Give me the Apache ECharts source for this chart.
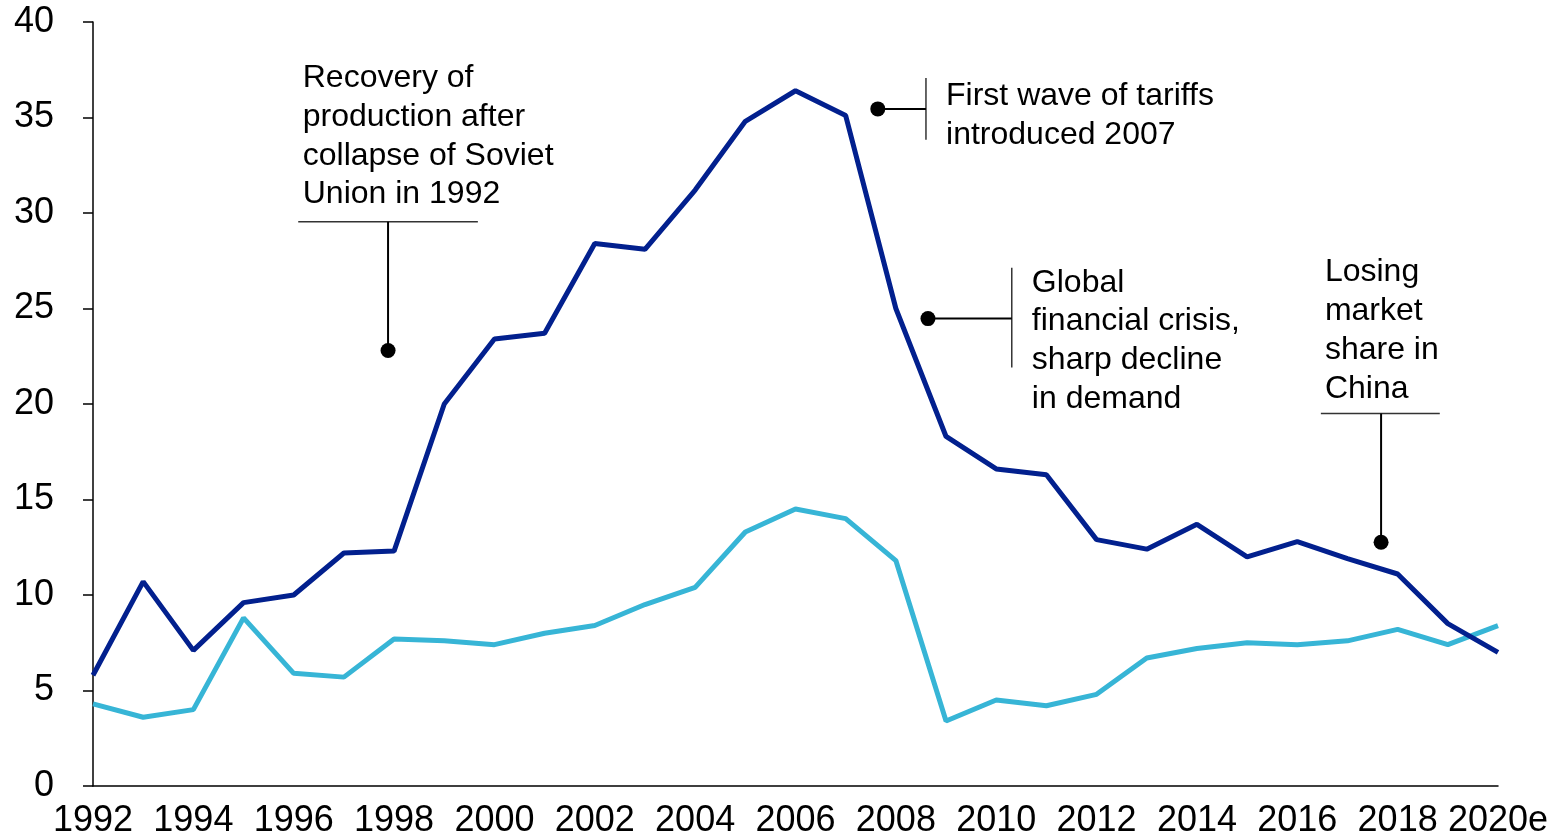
<!DOCTYPE html>
<html><head><meta charset="utf-8">
<script src="https://cdn.jsdelivr.net/npm/echarts@6/dist/echarts.min.js"></script>
<style>html,body{margin:0;padding:0;background:#fff}#c{width:1552px;height:839px}</style>
</head><body><div id="c"></div>
<script>
const years = [1992,1993,1994,1995,1996,1997,1998,1999,2000,2001,2002,2003,2004,2005,2006,2007,2008,2009,2010,2011,2012,2013,2014,2015,2016,2017,2018,2019,2020];
const seriesDark = [5.8,10.7,7.1,9.6,10.0,12.2,12.3,20.0,23.4,23.7,28.4,28.1,31.2,34.8,36.4,35.1,25.0,18.3,16.6,16.3,12.9,12.4,13.7,12.0,12.8,11.9,11.1,8.5,7.0];
const seriesLight = [4.3,3.6,4.0,8.8,5.9,5.7,7.7,7.6,7.4,8.0,8.4,9.5,10.4,13.3,14.5,14.0,11.8,3.4,4.5,4.2,4.8,6.7,7.2,7.5,7.4,7.6,8.2,7.4,8.4];
const lastYearLabel = '2020e';
const yTicks = [0,5,10,15,20,25,30,35,40];

// annotation anchors in data coordinates (year, value)
const annDots = [[1997.88,22.8],[2007.64,35.45],[2008.64,24.47],[2017.67,12.76]];
const annJoints = [[1997.88,29.54],[2008.6,35.45],[2010.31,24.47],[2017.67,19.5]];
const annBars = [[[1996.09,29.54],[1999.67,29.54]],[[2008.6,37.07],[2008.6,33.83]],[[2010.31,27.14],[2010.31,21.91]],[[2016.47,19.5],[2018.84,19.5]]];
const annTextPos = [[1996.18,34.0],[2009.0,35.1],[2010.71,23.3],[2016.55,23.84]];
const annTexts = [
  'Recovery of\nproduction after\ncollapse of Soviet\nUnion in 1992',
  'First wave of tariffs\nintroduced 2007',
  'Global\nfinancial crisis,\nsharp decline\nin demand',
  'Losing\nmarket\nshare in\nChina'
];

const FONT = '"Liberation Sans", Arial, sans-serif';
const chart = echarts.init(document.getElementById('c'));
chart.setOption({
  animation: false,
  backgroundColor: '#fff',
  grid: {left: 93, right: 54, top: 22, bottom: 53, containLabel: false},
  xAxis: {
    type: 'value', min: years[0], max: years[years.length-1], interval: 2,
    axisLine: {show: true, lineStyle: {color: '#000', width: 1.5}},
    axisTick: {show: false},
    splitLine: {show: false},
    axisLabel: {fontSize: 36, color: '#000', fontFamily: FONT, margin: 17,
      formatter: v => v === years[years.length-1] ? lastYearLabel : String(v)}
  },
  yAxis: {
    type: 'value', min: yTicks[0], max: yTicks[yTicks.length-1], interval: 5,
    axisLine: {show: true, lineStyle: {color: '#000', width: 1.5}},
    axisTick: {show: true, length: 10, lineStyle: {color: '#000', width: 1.5}},
    splitLine: {show: false},
    axisLabel: {fontSize: 36, color: '#000', fontFamily: FONT, margin: 39}
  },
  series: [
    {type: 'line', data: years.map((y,i)=>[y, seriesLight[i]]), symbol: 'none',
     lineStyle: {color: '#37b5d6', width: 5}, z: 2},
    {type: 'line', data: years.map((y,i)=>[y, seriesDark[i]]), symbol: 'none',
     lineStyle: {color: '#02208e', width: 5}, z: 3},
    {type: 'custom', data: annDots, z: 5, clip: false,
     encode: {x: 0, y: 1},
     renderItem: function(params, api) {
       const i = params.dataIndex;
       const d = api.coord(annDots[i]);
       const j = api.coord(annJoints[i]);
       const b1 = api.coord(annBars[i][0]);
       const b2 = api.coord(annBars[i][1]);
       const t = api.coord(annTextPos[i]);
       return {type: 'group', children: [
         {type: 'line', shape: {x1: b1[0], y1: b1[1], x2: b2[0], y2: b2[1]},
          style: {stroke: '#333', lineWidth: 1.5}},
         {type: 'line', shape: {x1: j[0], y1: j[1], x2: d[0], y2: d[1]},
          style: {stroke: '#000', lineWidth: 2}},
         {type: 'circle', shape: {cx: d[0], cy: d[1], r: 7.5}, style: {fill: '#000'}},
         {type: 'text', x: t[0], y: t[1], style: {text: annTexts[i], fontSize: 32, fontFamily: FONT,
           fill: '#000', align: 'left', verticalAlign: 'middle', lineHeight: 38.7}}
       ]};
     }}
  ]
});
</script></body></html>
